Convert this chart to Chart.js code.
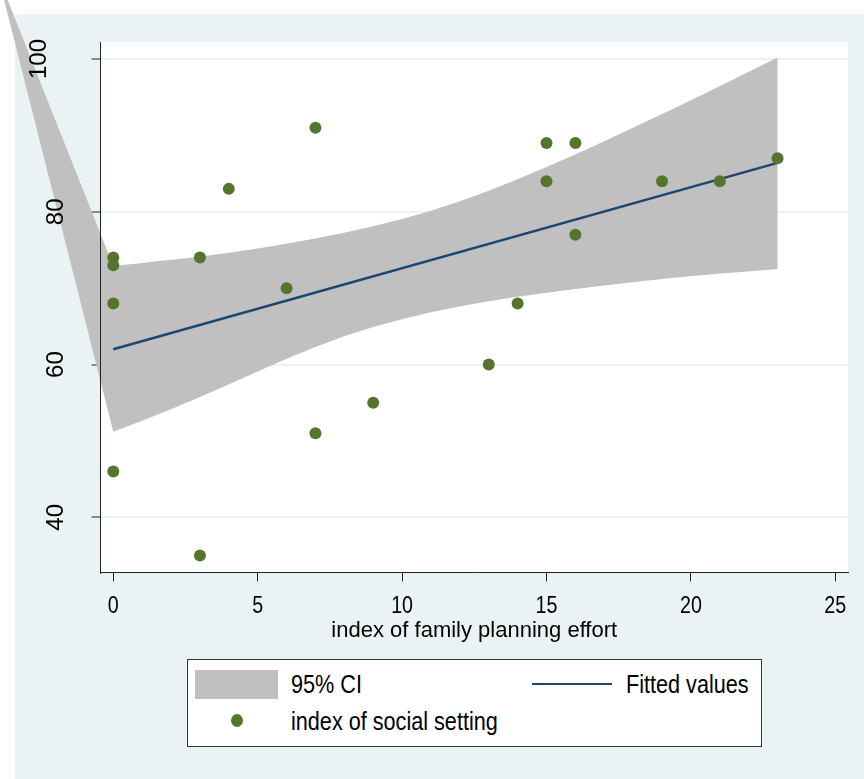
<!DOCTYPE html>
<html>
<head>
<meta charset="utf-8">
<title>index of social setting by family planning effort</title>
<script src="https://cdn.jsdelivr.net/npm/chart.js@4.4.1/dist/chart.umd.min.js"></script>
<style>
  body { margin: 0; background: #fff; }
  #wrap { position: relative; width: 864px; height: 779px; }
  #legend {
    position: absolute; left: 187px; top: 659px; width: 573px; height: 86px;
    background: #fff; border: 1px solid #333;
    font-family: "Liberation Sans", Arial, sans-serif;
    font-size: 25px; color: #000;
  }
  #legend > div { position: absolute; }
  #legend .txt {
    height: 30px; line-height: 30px; white-space: nowrap;
    transform: scaleX(0.865); transform-origin: left center;
  }
</style>
</head>
<body>
<div id="wrap">
  <canvas id="chart" width="864" height="779"></canvas>
  <div id="legend"></div>
</div>
<script>
// scatter data: x = index of family planning effort, y = index of social setting
const effort = [0, 0, 0, 0, 3, 3, 4, 6, 7, 7, 9, 13, 14, 15, 15, 16, 16, 19, 21, 23];
const setting = [74, 73, 68, 46, 74, 35, 83, 70, 91, 51, 55, 60, 68, 89, 84, 89, 77, 84, 84, 87];

// fitted line (at its ends)
const fitX = [0, 23];
const fitY = [62.0, 86.4];

// 95% CI band, upper and lower edges
const ciX = [0, 2, 4, 6, 8, 10, 12, 14, 16, 18, 20, 23];
const ciUpper = [72.9, 73.7, 74.6, 75.8, 77.2, 79.0, 81.3, 84.2, 87.5, 91.0, 94.6, 100.2];
const ciLower = [51.2, 54.1, 57.4, 60.8, 63.8, 66.0, 67.7, 68.9, 69.9, 70.8, 71.6, 72.5];
// stray vertex of the band polygon, off to the top left
const ciTipX = -4;
const ciTipY = 111;

const xTicks = [0, 5, 10, 15, 20, 25];
const yTicks = [40, 60, 80, 100];

const labels = ["95% CI", "Fitted values", "index of social setting"];

const GREEN = "#55752f";
const NAVY = "#1a476f";
const BAND = "#c0c0c0";
const BG = "#eaf2f3";
const FONT = '"Liberation Sans", Arial, sans-serif';

// band polygon: tip -> upper edge -> lower edge (reversed) -> tip
const bandPoints = [{ x: ciTipX, y: ciTipY }];
ciX.forEach((x, i) => bandPoints.push({ x: x, y: ciUpper[i] }));
for (let i = ciX.length - 1; i >= 0; i--) bandPoints.push({ x: ciX[i], y: ciLower[i] });
bandPoints.push({ x: ciTipX, y: ciTipY });

// page background, then the white plot region
const backgroundPlugin = {
  id: "background",
  beforeDraw(chart) {
    const { ctx, chartArea: a } = chart;
    ctx.save();
    ctx.fillStyle = "#fff";
    ctx.fillRect(0, 0, chart.width, chart.height);
    ctx.fillStyle = BG;
    ctx.fillRect(15, 14, chart.width - 15, chart.height - 14);
    ctx.fillStyle = "#fff";
    ctx.fillRect(a.left, a.top, a.right - a.left, a.bottom - a.top);
    ctx.restore();
  },
};

// smooth run through points (midpoint quadratic), starting with a lineTo
function smoothRun(ctx, pts) {
  ctx.lineTo(pts[0].x, pts[0].y);
  for (let i = 1; i < pts.length - 1; i++) {
    const mx = (pts[i].x + pts[i + 1].x) / 2;
    const my = (pts[i].y + pts[i + 1].y) / 2;
    ctx.quadraticCurveTo(pts[i].x, pts[i].y, mx, my);
  }
  const last = pts[pts.length - 1];
  ctx.lineTo(last.x, last.y);
}

// fills the CI polygon from the band dataset's points, unclipped
const bandPlugin = {
  id: "band",
  beforeDatasetsDraw(chart) {
    const pts = chart.getDatasetMeta(2).data;
    const n = ciX.length;
    const ctx = chart.ctx;
    ctx.save();
    ctx.beginPath();
    ctx.moveTo(pts[0].x, pts[0].y);
    smoothRun(ctx, pts.slice(1, 1 + n));
    smoothRun(ctx, pts.slice(1 + n, 1 + 2 * n));
    ctx.closePath();
    ctx.fillStyle = chart.data.datasets[2].backgroundColor;
    ctx.fill();
    ctx.restore();
  },
};

// tick labels: x ones condensed, y ones vertical
const labelPlugin = {
  id: "tickLabels",
  afterDraw(chart) {
    const { x, y } = chart.scales;
    const ctx = chart.ctx;
    ctx.save();
    ctx.font = "24px " + FONT;
    ctx.fillStyle = "#000";
    ctx.textAlign = "center";
    ctx.textBaseline = "alphabetic";
    x.ticks.forEach((t) => {
      ctx.save();
      ctx.translate(x.getPixelForValue(t.value), 613);
      ctx.scale(0.82, 1);
      ctx.fillText(String(t.value), 0, 0);
      ctx.restore();
    });
    y.ticks.forEach((t) => {
      const text = String(t.value);
      const bx = text.length > 2 ? 46 : 63;
      ctx.save();
      ctx.translate(bx, y.getPixelForValue(t.value));
      ctx.rotate(-Math.PI / 2);
      ctx.fillText(text, 0, 0);
      ctx.restore();
    });
    ctx.restore();
  },
};

const ctx = document.getElementById("chart").getContext("2d");
new Chart(ctx, {
  type: "scatter",
  data: {
    datasets: [
      {
        label: labels[2],
        data: effort.map((x, i) => ({ x: x, y: setting[i] })),
        backgroundColor: GREEN,
        borderWidth: 0,
        pointRadius: 6,
        order: 0,
      },
      {
        label: labels[1],
        data: fitX.map((x, i) => ({ x: x, y: fitY[i] })),
        showLine: true,
        borderColor: NAVY,
        borderWidth: 2.5,
        pointRadius: 0,
        order: 1,
      },
      {
        label: labels[0],
        data: bandPoints,
        backgroundColor: BAND,
        showLine: false,
        pointRadius: 0,
        order: 2,
      },
    ],
  },
  options: {
    responsive: false,
    animation: false,
    devicePixelRatio: 1,
    layout: { padding: { top: 42, right: 16, bottom: 126.5, left: 0 } },
    plugins: { legend: { display: false }, tooltip: { enabled: false } },
    scales: {
      x: {
        type: "linear",
        min: -0.443,
        max: 25.44,
        afterBuildTicks: (s) => { s.ticks = xTicks.map((v) => ({ value: v })); },
        afterFit: (s) => { s.height = 80; },
        grid: { drawOnChartArea: false, drawTicks: true, tickLength: 9, tickColor: "#222", tickWidth: 1 },
        border: { color: "#222", width: 1, z: 1 },
        ticks: { display: false },
        title: {
          display: true,
          text: "index of family planning effort",
          color: "#000",
          font: { family: FONT, size: 22 },
          padding: { top: 0, bottom: 8 },
        },
      },
      y: {
        type: "linear",
        min: 32.77,
        max: 102.23,
        afterBuildTicks: (s) => { s.ticks = yTicks.map((v) => ({ value: v })); },
        afterFit: (s) => { s.width = 100.5; },
        grid: { color: BG, lineWidth: 2, drawTicks: true, tickLength: 9, tickColor: "#222", tickWidth: 1 },
        border: { color: "#222", width: 1, z: 1 },
        ticks: { display: false },
      },
    },
  },
  plugins: [backgroundPlugin, bandPlugin, labelPlugin],
});

// legend box, laid out like the Stata key
const legend = document.getElementById("legend");
legend.innerHTML =
  `<div style="left:7px;top:10px;width:83px;height:29px;background:${BAND}"></div>` +
  `<div class="txt" style="left:103px;top:9px">${labels[0]}</div>` +
  `<div style="left:344px;top:23px;width:80px;height:0;border-top:2.5px solid ${NAVY}"></div>` +
  `<div class="txt" style="left:438px;top:9px">${labels[1]}</div>` +
  `<div style="left:43px;top:54px;width:12px;height:13px;border-radius:50%;background:${GREEN}"></div>` +
  `<div class="txt" style="left:103px;top:46px">${labels[2]}</div>`;
</script>
</body>
</html>
